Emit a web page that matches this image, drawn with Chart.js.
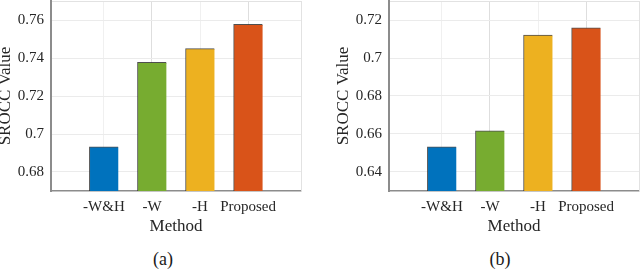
<!DOCTYPE html>
<html>
<head>
<meta charset="utf-8">
<script src="https://cdn.jsdelivr.net/npm/chart.js@4"></script>
<style>
  html, body { margin: 0; padding: 0; background: #fff; }
  #page { position: relative; width: 640px; height: 274px; overflow: hidden; background: #fff; }
  .panel { position: absolute; top: 0; width: 320px; height: 240px; }
  .caption { position: absolute; width: 60px; text-align: center; font: 18px "Liberation Serif", serif; color: #1a1a1a; line-height: 20px; }
</style>
</head>
<body>
<div id="page">
  <div class="panel" style="left:-18px"><canvas id="chartA" width="320" height="240"></canvas></div>
  <div class="panel" style="left:320px"><canvas id="chartB" width="320" height="240"></canvas></div>
  <div class="caption" style="left:133px; top:249px">(a)</div>
  <div class="caption" style="left:470px; top:249px">(b)</div>
</div>
<script>
const categories = ['-W&H', '-W', '-H', 'Proposed'];
const valuesA = [0.6933, 0.7377, 0.7449, 0.7577];
const valuesB = [0.6533, 0.6617, 0.7121, 0.7159];
const yTicksA = [0.68, 0.70, 0.72, 0.74, 0.76];
const yTicksB = [0.64, 0.66, 0.68, 0.70, 0.72];
const yRangeA = [0.67, 0.77];
const yRangeB = [0.63, 0.73];
const barColors = ['#0072BD', '#77AC30', '#EDB120', '#D95319'];

const textColor = '#262626';
const serif = "'Liberation Serif', 'Times New Roman', serif";

// chart.js reserves room for half a tick label at the ends, the original doesn't
function noEndPadding(s) {
    s.paddingTop = 0;
    s.paddingBottom = 0;
    s.paddingLeft = 0;
    s.paddingRight = 0;
}

function makeChart(id, values, yTicks, yRange) {
    const ctx = document.getElementById(id).getContext('2d');
    return new Chart(ctx, {
        type: 'bar',
        data: {
            datasets: [{
                data: values.map((v, i) => ({ x: i, y: v })),
                backgroundColor: barColors,
                borderColor: 'rgba(35,35,35,0.8)',
                borderWidth: { left: 1, top: 1, right: 0, bottom: 0 },
                borderSkipped: false,
                barThickness: 29
            }]
        },
        options: {
            responsive: false,
            animation: false,
            layout: { padding: { top: 1, right: 1, bottom: 0, left: 0 } },
            plugins: {
                legend: { display: false },
                tooltip: { enabled: false }
            },
            scales: {
                x: {
                    type: 'linear',
                    min: -1.1,
                    max: 4.1,
                    offset: false,
                    afterBuildTicks: (s) => { s.ticks = categories.map((c, i) => ({ value: i })); },
                    afterFit: (s) => { s.height = 49; noEndPadding(s); },
                    ticks: {
                        callback: (v) => categories[v],
                        color: textColor,
                        font: { family: serif, size: 15 },
                        padding: 7,
                        autoSkip: false,
                        maxRotation: 0
                    },
                    grid: {
                        // the -W and Proposed lines look a bit darker in the original
                        color: (c) => (c.index % 2 === 1 ? '#dedede' : '#f0f0f0'),
                        drawTicks: false,
                        offset: false
                    },
                    border: { color: '#8c8c8c', width: 1.5 },
                    title: {
                        display: true,
                        text: 'Method',
                        color: textColor,
                        font: { family: serif, size: 17 },
                        padding: { top: 0, bottom: 3 }
                    }
                },
                xTop: {
                    type: 'linear',
                    position: 'top',
                    afterFit: (s) => { s.height = 0; noEndPadding(s); },
                    ticks: { display: false },
                    grid: { display: false, drawTicks: false },
                    border: { color: '#e2e2e2', width: 1 }
                },
                y: {
                    min: yRange[0],
                    max: yRange[1],
                    afterBuildTicks: (s) => { s.ticks = yTicks.map(v => ({ value: v })); },
                    afterFit: (s) => { s.width = 69; noEndPadding(s); },
                    ticks: {
                        callback: (v) => String(v),
                        color: textColor,
                        font: { family: serif, size: 15 },
                        padding: 7
                    },
                    grid: { color: '#ebebeb', drawTicks: false },
                    border: { color: '#8c8c8c', width: 2 },
                    title: {
                        display: true,
                        text: 'SROCC Value',
                        color: textColor,
                        font: { family: serif, size: 17 },
                        padding: { top: 13, bottom: 0 }
                    }
                },
                yRight: {
                    type: 'linear',
                    position: 'right',
                    afterFit: (s) => { s.width = 0; noEndPadding(s); },
                    ticks: { display: false },
                    grid: { display: false, drawTicks: false },
                    border: { color: '#e2e2e2', width: 1 }
                }
            }
        }
    });
}

makeChart('chartA', valuesA, yTicksA, yRangeA);
makeChart('chartB', valuesB, yTicksB, yRangeB);
</script>
</body>
</html>
